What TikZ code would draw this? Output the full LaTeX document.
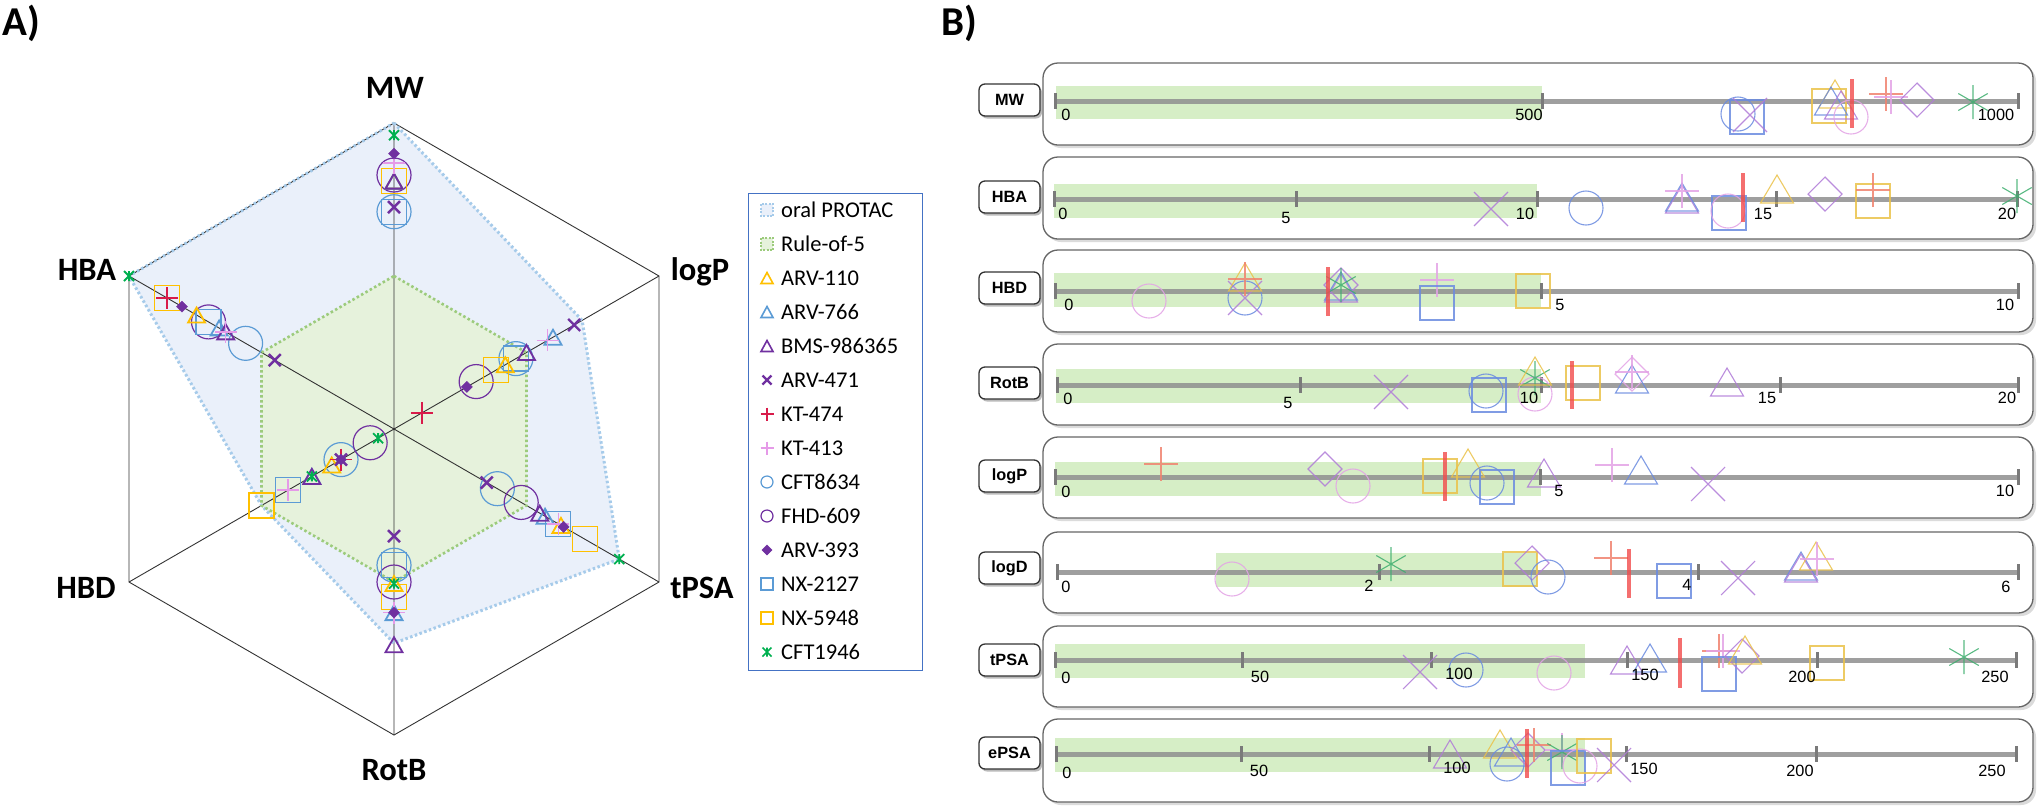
\documentclass[tikz,border=0pt]{standalone}
\usepackage{fontspec}
\setmainfont{Carlito}
\newfontfamily\arialf{Liberation Sans}
\usetikzlibrary{calc,shadows}
\definecolor{cYel}{HTML}{FFC000}
\definecolor{cBlu}{HTML}{5B9BD5}
\definecolor{cPur}{HTML}{7030A0}
\definecolor{cRed}{HTML}{D81B4A}
\definecolor{cPnk}{HTML}{E59AE8}
\definecolor{cGrn}{HTML}{00B050}
\definecolor{oralFill}{HTML}{EAF0FA}
\definecolor{oralLine}{HTML}{A6CBEA}
\definecolor{roFill}{HTML}{E6F2DC}
\definecolor{roLine}{HTML}{9CCB7C}
\definecolor{legLine}{HTML}{4472C4}
\definecolor{bYel}{HTML}{EBC24A}
\definecolor{bBlu}{HTML}{6A8BE0}
\definecolor{bPur}{HTML}{B07AD8}
\definecolor{bPnk}{HTML}{E3A3E6}
\definecolor{bRed}{HTML}{F0826E}
\definecolor{bGrn}{HTML}{3DAE6E}
\definecolor{bBand}{HTML}{D6EEC6}
\definecolor{bAxis}{HTML}{8F8F8F}
\definecolor{bBar}{HTML}{F24B4B}
% marker shapes
\newcommand{\MkTri}[4]{\draw[#1,shift={(#2)}] (0,-#4) -- (-#3,#4) -- (#3,#4) -- cycle;}
\newcommand{\MkSq}[3]{\draw[#1,shift={(#2)}] (-#3,-#3) rectangle (#3,#3);}
\newcommand{\MkCirc}[3]{\draw[#1,shift={(#2)}] (0,0) circle[radius=#3];}
\newcommand{\MkX}[3]{\draw[#1,shift={(#2)}] (-#3,-#3) -- (#3,#3) (-#3,#3) -- (#3,-#3);}
\newcommand{\MkPlus}[3]{\draw[#1,shift={(#2)}] (-#3,0) -- (#3,0) (0,-#3) -- (0,#3);}
\newcommand{\MkDia}[3]{\draw[#1,shift={(#2)}] (0,-#3) -- (#3,0) -- (0,#3) -- (-#3,0) -- cycle;}
\newcommand{\MkAst}[3]{\draw[#1,shift={(#2)}] (90:#3) -- (270:#3) (30:#3) -- (210:#3) (150:#3) -- (330:#3);}
\newcommand{\MkStar}[3]{\draw[#1,shift={(#2)}] (-#3,-#3) -- (#3,#3) (-#3,#3) -- (#3,-#3) (0,-#3) -- (0,#3);}
% radar markers: style, axis, fraction
\newcommand{\RT}[3]{\MkTri{#1}{$(C)!#3!(a#2)$}{8.5}{7.5}}
\newcommand{\RC}[3]{\MkCirc{#1}{$(C)!#3!(a#2)$}{17}}
\newcommand{\RS}[3]{\MkSq{#1}{$(C)!#3!(a#2)$}{12.5}}
\newcommand{\RX}[3]{\MkX{#1}{$(C)!#3!(a#2)$}{6}}
\newcommand{\RPl}[3]{\MkPlus{#1}{$(C)!#3!(a#2)$}{11}}
\newcommand{\RD}[3]{\MkDia{#1}{$(C)!#3!(a#2)$}{5.5}}
\newcommand{\RG}[3]{\MkStar{#1}{$(C)!#3!(a#2)$}{5}}
% panel B helpers
\newcommand{\Tk}[2]{\draw[tickst] (#1,#2-8) -- (#1,#2+8);}
\newcommand{\RowBox}[2]{\fill[rowshadow] (1046,#1+3) rectangle (2036,#2+3); \draw[rowframe] (1043,#1) rectangle (2033,#2);}
\tikzset{
 panlab/.style={font=\fontsize{41}{45}\selectfont\bfseries, inner sep=0pt},
 radlab/.style={font=\fontsize{32.6}{36}\selectfont\bfseries, inner sep=0pt, anchor=base},
 legtxt/.style={font=\fontsize{22.5}{25}\selectfont, inner sep=0pt, anchor=base west},
 rowlab/.style={draw=black!80, line width=1.3, fill=white, rounded corners=6, minimum width=61pt, minimum height=32pt, inner sep=0pt, font=\arialf\bfseries\fontsize{16.3}{18}\selectfont, drop shadow={shadow xshift=2pt,shadow yshift=-2.5pt,opacity=0.45,fill=black!60}},
 ticklab/.style={font=\arialf\fontsize{16.3}{18}\selectfont, inner sep=0pt},
 rowframe/.style={draw=black!60, fill=white, line width=1.3, rounded corners=15},
 rowshadow/.style={fill=black!14, rounded corners=15},
 band/.style={fill=bBand},
 axisline/.style={draw=bAxis, line width=5, draw opacity=0.85},
 tickst/.style={draw=bAxis!85!black, line width=3},
 redbar/.style={draw=bBar, line width=4, draw opacity=0.8},
 bm/.style={line width=1.1, draw opacity=0.85},
 hexline/.style={draw=black!80, line width=0.9},
 aTY/.style={draw=cYel,line width=1.8},
 aTB/.style={draw=cBlu,line width=1.8},
 aTP/.style={draw=cPur,line width=1.8},
 aXs/.style={draw=cPur,line width=2.4},
 aPR/.style={draw=cRed,line width=1.5},
 aPK/.style={draw=cPnk,line width=1.5},
 aCB/.style={draw=cBlu,line width=1.2},
 aCP/.style={draw=cPur,line width=1.2},
 aDs/.style={fill=cPur,draw=cPur,line width=0.5},
 aSB/.style={draw=cBlu,line width=1.3},
 aSY/.style={draw=cYel,line width=1.3},
 aGs/.style={draw=cGrn,line width=1.8}
}
\begin{document}
\begin{tikzpicture}[x=1pt,y=-1pt,line join=miter]
\useasboundingbox (0,0) rectangle (2043,807);
\fill[white] (0,0) rectangle (2043,807);
% ---------------- Panel A ----------------
\node[panlab] (pA) at (21,23) {A)};
\coordinate (C) at (394,429);
\coordinate (aMW) at (394,123);
\coordinate (alogP) at (659,276);
\coordinate (atPSA) at (659,582);
\coordinate (aRotB) at (394,735);
\coordinate (aHBD) at (129,582);
\coordinate (aHBA) at (129,276);
% areas
\fill[oralFill] ($(C)!1!(aMW)$) -- ($(C)!0.71!(alogP)$) -- ($(C)!0.85!(atPSA)$) -- ($(C)!0.70!(aRotB)$) -- ($(C)!0.5!(aHBD)$) -- ($(C)!1!(aHBA)$) -- cycle;
\fill[roFill] ($(C)!0.5!(aMW)$) -- ($(C)!0.5!(alogP)$) -- ($(C)!0.5!(atPSA)$) -- ($(C)!0.5!(aRotB)$) -- ($(C)!0.5!(aHBD)$) -- ($(C)!0.5!(aHBA)$) -- cycle;
% frame
\draw[hexline] (aMW) -- (alogP) -- (atPSA) -- (aRotB) -- (aHBD) -- (aHBA) -- cycle;
\draw[hexline] (aMW) -- (aRotB) (alogP) -- (aHBD) (aHBA) -- (atPSA);
% borders
\draw[oralLine, line width=3, dash pattern=on 2.5pt off 2.5pt] ($(C)!1!(aMW)$) -- ($(C)!0.71!(alogP)$) -- ($(C)!0.85!(atPSA)$) -- ($(C)!0.70!(aRotB)$) -- ($(C)!0.5!(aHBD)$) -- ($(C)!1!(aHBA)$) -- cycle;
\draw[roLine, line width=2.6, dash pattern=on 2.5pt off 2.5pt] ($(C)!0.5!(aMW)$) -- ($(C)!0.5!(alogP)$) -- ($(C)!0.5!(atPSA)$) -- ($(C)!0.5!(aRotB)$) -- ($(C)!0.5!(aHBD)$) -- ($(C)!0.5!(aHBA)$) -- cycle;
% circles and squares
\RC{aCB}{MW}{0.71} \RC{aCB}{HBA}{0.56} \RC{aCB}{logP}{0.46} \RC{aCB}{HBD}{0.20} \RC{aCB}{tPSA}{0.39} \RC{aCB}{RotB}{0.445}
\RC{aCP}{MW}{0.83} \RC{aCP}{HBA}{0.70} \RC{aCP}{logP}{0.31} \RC{aCP}{HBD}{0.09} \RC{aCP}{tPSA}{0.48} \RC{aCP}{RotB}{0.50}
\RS{aSB}{MW}{0.71} \RS{aSB}{HBA}{0.70} \RS{aSB}{logP}{0.46} \RS{aSB}{HBD}{0.40} \RS{aSB}{tPSA}{0.62} \RS{aSB}{RotB}{0.445}
\RS{aSY}{MW}{0.81} \RS{aSY}{HBA}{0.856} \RS{aSY}{logP}{0.385} \RS{aSY}{HBD}{0.50} \RS{aSY}{tPSA}{0.72} \RS{aSY}{RotB}{0.55}
% triangles
\RT{aTY}{MW}{0.81} \RT{aTY}{HBA}{0.745} \RT{aTY}{logP}{0.42} \RT{aTY}{HBD}{0.235} \RT{aTY}{tPSA}{0.63} \RT{aTY}{RotB}{0.505}
\RT{aTB}{MW}{0.81} \RT{aTB}{HBA}{0.66} \RT{aTB}{logP}{0.60} \RT{aTB}{HBD}{0.31} \RT{aTB}{tPSA}{0.57} \RT{aTB}{RotB}{0.60}
\RT{aTP}{MW}{0.81} \RT{aTP}{HBA}{0.635} \RT{aTP}{logP}{0.50} \RT{aTP}{HBD}{0.31} \RT{aTP}{tPSA}{0.55} \RT{aTP}{RotB}{0.705}
% crosses, pluses, diamonds, stars
\RX{aXs}{MW}{0.725} \RX{aXs}{HBA}{0.45} \RX{aXs}{logP}{0.68} \RX{aXs}{HBD}{0.20} \RX{aXs}{tPSA}{0.35} \RX{aXs}{RotB}{0.35}
\RPl{aPR}{MW}{0.87} \RPl{aPR}{HBA}{0.856} \RPl{aPR}{logP}{0.105} \RPl{aPR}{HBD}{0.20} \RPl{aPR}{tPSA}{0.62}
\RPl{aPK}{MW}{0.87} \RPl{aPK}{HBA}{0.635} \RPl{aPK}{logP}{0.58} \RPl{aPK}{HBD}{0.40} \RPl{aPK}{tPSA}{0.62} \RPl{aPK}{RotB}{0.60}
\RD{aDs}{MW}{0.90} \RD{aDs}{HBA}{0.80} \RD{aDs}{logP}{0.275} \RD{aDs}{HBD}{0.20} \RD{aDs}{tPSA}{0.64} \RD{aDs}{RotB}{0.60}
\RG{aGs}{MW}{0.96} \RG{aGs}{HBA}{1.0} \RG{aGs}{HBD}{0.06} \RG{aGs}{HBD}{0.31} \RG{aGs}{tPSA}{0.85} \RG{aGs}{RotB}{0.505}
% axis labels
\node[radlab] (lMW) at (395,98) {MW};
\node[radlab] (lHBA) at (87,280) {HBA};
\node[radlab] (llogP) at (700,280) {logP};
\node[radlab] (lHBD) at (86,598) {HBD};
\node[radlab] (ltPSA) at (702,598) {tPSA};
\node[radlab] (lRotB) at (394,780) {RotB};
% legend
\draw[legLine, line width=1] (748,193) rectangle (922,670);
\fill[oralFill] (761,204) rectangle (773,216);
\draw[oralLine, line width=2, dash pattern=on 2pt off 1.5pt] (761,204) rectangle (773,216);
\fill[roFill] (761,238) rectangle (773,250);
\draw[roLine, line width=2, dash pattern=on 2pt off 1.5pt] (761,238) rectangle (773,250);
\MkTri{draw=cYel,line width=1.6}{767,278}{6}{5.5}
\MkTri{draw=cBlu,line width=1.6}{767,312}{6}{5.5}
\MkTri{draw=cPur,line width=1.6}{767,346}{6}{5.5}
\MkX{draw=cPur,line width=2.2}{767,380}{4.5}
\MkPlus{draw=cRed,line width=1.4}{767,414}{6.5}
\MkPlus{draw=cPnk,line width=1.4}{767,448}{6.5}
\MkCirc{draw=cBlu,line width=1.2}{767,482}{6}
\MkCirc{draw=cPur,line width=1.2}{767,516}{6}
\MkDia{fill=cPur,draw=cPur}{767,550}{5}
\MkSq{draw=cBlu,line width=1.2}{767,584}{6}
\MkSq{draw=cYel,line width=1.2}{767,618}{6}
\MkStar{draw=cGrn,line width=1.6}{767,652}{4.5}
\node[legtxt] (g0) at (781,217.5) {oral PROTAC};
\node[legtxt] (g1) at (781,251.5) {Rule-of-5};
\node[legtxt] (g2) at (781,285.5) {ARV-110};
\node[legtxt] (g3) at (781,319.5) {ARV-766};
\node[legtxt] (g4) at (781,353.5) {BMS-986365};
\node[legtxt] (g5) at (781,387.5) {ARV-471};
\node[legtxt] (g6) at (781,421.5) {KT-474};
\node[legtxt] (g7) at (781,455.5) {KT-413};
\node[legtxt] (g8) at (781,489.5) {CFT8634};
\node[legtxt] (g9) at (781,523.5) {FHD-609};
\node[legtxt] (g10) at (781,557.5) {ARV-393};
\node[legtxt] (g11) at (781,591.5) {NX-2127};
\node[legtxt] (g12) at (781,625.5) {NX-5948};
\node[legtxt] (g13) at (781,659.5) {CFT1946};
% ---------------- Panel B ----------------
\node[panlab] (pB) at (959,23) {B)};
% MW row
\RowBox{63}{145}
\fill[band] (1056,86) rectangle (1542,119);
\draw[axisline] (1055,101) -- (2018,101);
\Tk{1055}{101} \Tk{1542}{101} \Tk{2018}{101}
\MkCirc{bm,bBlu}{1738,114}{17} \MkSq{bm,bBlu}{1747,117}{17} \MkX{bm,bPur}{1750,115}{17}
\MkSq{bm,bYel}{1829,106}{17} \MkTri{bm,bYel}{1835,94}{16.5}{14} \MkTri{bm,bBlu}{1831,101}{16.5}{14} \MkTri{bm,bPur}{1841,105}{16.5}{14}
\MkCirc{bm,bPnk}{1851,117}{17} \MkPlus{bm,bRed}{1886,94}{17} \MkPlus{bm,bPnk}{1891,97}{17}
\MkDia{bm,bPur}{1917,100}{17} \MkAst{bm,bGrn}{1973,102}{17}
\draw[redbar] (1852,79) -- (1852,128);
\node[ticklab] (tMWa) at (1066,115) {0};
\node[ticklab] (tMWb) at (1529,115) {500};
\node[ticklab] (tMWc) at (1996,115) {1000};
\node[rowlab] (rMW) at (1009.5,100) {MW};
% HBA row
\RowBox{157}{239}
\fill[band] (1054,184) rectangle (1537,218);
\draw[axisline] (1054,199) -- (2017,199);
\Tk{1054}{199} \Tk{1296}{199} \Tk{1537}{199} \Tk{1776}{199} \Tk{2017}{199}
\MkX{bm,bPur}{1491,209}{17} \MkCirc{bm,bBlu}{1586,208}{17}
\MkTri{bm,bPur}{1682,199}{16.5}{14} \MkTri{bm,bBlu}{1682,197}{16.5}{14} \MkPlus{bm,bPnk}{1682,191}{17}
\MkSq{bm,bBlu}{1729,213}{17} \MkCirc{bm,bPnk}{1728,211}{17}
\MkTri{bm,bYel}{1777,189}{16.5}{14} \MkDia{bm,bPur}{1825,194}{17}
\MkSq{bm,bYel}{1873,201}{17} \MkPlus{bm,bRed}{1873,190}{17} \MkAst{bm,bGrn}{2017,196}{17}
\draw[redbar] (1743,173) -- (1743,222);
\node[ticklab] (tHBAa) at (1063,214) {0};
\node[ticklab] (tHBAb) at (1286,218) {5};
\node[ticklab] (tHBAc) at (1525,214) {10};
\node[ticklab] (tHBAd) at (1763,214) {15};
\node[ticklab] (tHBAe) at (2007,214) {20};
\node[rowlab] (rHBA) at (1009.5,197) {HBA};
% HBD row
\RowBox{250}{332}
\fill[band] (1054,273) rectangle (1541,307);
\draw[axisline] (1055,291) -- (2018,291);
\Tk{1055}{291} \Tk{1541}{291} \Tk{2018}{291}
\MkCirc{bm,bPnk}{1149,301}{17} \MkCirc{bm,bBlu}{1245,298}{17} \MkX{bm,bPur}{1245,298}{17}
\MkTri{bm,bYel}{1245,277}{16.5}{14} \MkPlus{bm,bRed}{1245,279}{17}
\MkTri{bm,bPur}{1341,288}{16.5}{14} \MkTri{bm,bBlu}{1341,286}{16.5}{14} \MkDia{bm,bPur}{1341,285}{17} \MkAst{bm,bGrn}{1341,285}{17}
\MkPlus{bm,bPnk}{1437,280}{17} \MkSq{bm,bBlu}{1437,303}{17} \MkSq{bm,bYel}{1533,291}{17}
\draw[redbar] (1328,267) -- (1328,316);
\node[ticklab] (tHBDa) at (1069,305) {0};
\node[ticklab] (tHBDb) at (1560,305) {5};
\node[ticklab] (tHBDc) at (2005,305) {10};
\node[rowlab] (rHBD) at (1009.5,288) {HBD};
% RotB row
\RowBox{344}{425}
\fill[band] (1056,369) rectangle (1541,403);
\draw[axisline] (1057,385) -- (2018,385);
\Tk{1057}{385} \Tk{1300}{385} \Tk{1541}{385} \Tk{1780}{385} \Tk{2018}{385}
\MkX{bm,bPur}{1391,392}{17} \MkCirc{bm,bBlu}{1486,391}{17} \MkSq{bm,bBlu}{1489,395}{17}
\MkCirc{bm,bPnk}{1535,394}{17} \MkAst{bm,bGrn}{1535,378}{17} \MkTri{bm,bYel}{1535,371}{16.5}{14}
\MkSq{bm,bYel}{1583,383}{17} \MkDia{bm,bPnk}{1632,374}{17} \MkTri{bm,bBlu}{1632,379}{16.5}{14} \MkPlus{bm,bPnk}{1632,372}{17}
\MkTri{bm,bPur}{1727,382}{16.5}{14}
\draw[redbar] (1572,361) -- (1572,409);
\node[ticklab] (tRBa) at (1068,399) {0};
\node[ticklab] (tRBb) at (1288,403) {5};
\node[ticklab] (tRBc) at (1529,398) {10};
\node[ticklab] (tRBd) at (1767,398) {15};
\node[ticklab] (tRBe) at (2007,398) {20};
\node[rowlab] (rRotB) at (1009.5,383) {RotB};
% logP row
\RowBox{437}{518}
\fill[band] (1055,462) rectangle (1541,496);
\draw[axisline] (1055,477) -- (2018,477);
\Tk{1055}{477} \Tk{1540}{477} \Tk{2018}{477}
\MkPlus{bm,bRed}{1161,464}{17} \MkDia{bm,bPur}{1325,469}{17} \MkCirc{bm,bPnk}{1353,486}{17}
\MkSq{bm,bYel}{1440,476}{17} \MkTri{bm,bYel}{1468,463}{16.5}{14} \MkCirc{bm,bBlu}{1487,483}{17} \MkSq{bm,bBlu}{1497,487}{17}
\MkTri{bm,bPur}{1544,473}{16.5}{14} \MkPlus{bm,bPnk}{1612,465}{17} \MkTri{bm,bBlu}{1641,470}{16.5}{14} \MkX{bm,bPur}{1708,484}{17}
\draw[redbar] (1445,452) -- (1445,501);
\node[ticklab] (tLPa) at (1066,492) {0};
\node[ticklab] (tLPb) at (1559,491) {5};
\node[ticklab] (tLPc) at (2005,491) {10};
\node[rowlab] (rlogP) at (1009.5,476) {logP};
% logD row
\RowBox{532}{613}
\fill[band] (1216,553) rectangle (1537,587);
\draw[axisline] (1057,572) -- (2018,572);
\Tk{1057}{572} \Tk{1379}{572} \Tk{1698}{572} \Tk{2018}{572}
\MkCirc{bm,bPnk}{1232,579}{17} \MkAst{bm,bGrn}{1391,564}{17} \MkSq{bm,bYel}{1520,569}{17}
\MkDia{bm,bPur}{1532,563}{17} \MkCirc{bm,bBlu}{1548,577}{17} \MkPlus{bm,bRed}{1611,558}{17}
\MkSq{bm,bBlu}{1674,581}{17} \MkX{bm,bPur}{1738,578}{17}
\MkTri{bm,bBlu}{1801,566}{16.5}{14} \MkTri{bm,bPur}{1801,568}{16.5}{14} \MkTri{bm,bYel}{1816,556}{16.5}{14} \MkPlus{bm,bPnk}{1817,559}{17}
\draw[redbar] (1629,549) -- (1629,598);
\node[ticklab] (tLDa) at (1066,587) {0};
\node[ticklab] (tLDb) at (1369,586) {2};
\node[ticklab] (tLDc) at (1687,585) {4};
\node[ticklab] (tLDd) at (2006,587) {6};
\node[rowlab] (rlogD) at (1009.5,568) {logD};
% tPSA row
\RowBox{626}{707}
\fill[band] (1055,644) rectangle (1585,678);
\draw[axisline] (1055,660) -- (2016,660);
\Tk{1055}{660} \Tk{1242}{660} \Tk{1431}{660} \Tk{1627}{660} \Tk{1817}{660} \Tk{2016}{660}
\MkX{bm,bPur}{1420,672}{17} \MkCirc{bm,bBlu}{1466,670}{17} \MkCirc{bm,bPnk}{1554,673}{17}
\MkTri{bm,bPur}{1627,660}{16.5}{14} \MkTri{bm,bBlu}{1650,658}{16.5}{14}
\MkPlus{bm,bRed}{1719,651}{17} \MkPlus{bm,bPnk}{1723,651}{17} \MkSq{bm,bBlu}{1719,674}{17}
\MkDia{bm,bPur}{1742,656}{17} \MkTri{bm,bYel}{1745,650}{16.5}{14} \MkSq{bm,bYel}{1827,663}{17} \MkAst{bm,bGrn}{1964,657}{17}
\draw[redbar] (1680,638) -- (1680,688);
\node[ticklab] (tTPa) at (1066,678) {0};
\node[ticklab] (tTPb) at (1260,677) {50};
\node[ticklab] (tTPc) at (1459,674) {100};
\node[ticklab] (tTPd) at (1645,675) {150};
\node[ticklab] (tTPe) at (1802,677) {200};
\node[ticklab] (tTPf) at (1995,677) {250};
\node[rowlab] (rtPSA) at (1009.5,660) {tPSA};
% ePSA row
\RowBox{719}{802}
\fill[band] (1055,738) rectangle (1585,772);
\draw[axisline] (1056,754) -- (2016,754);
\Tk{1056}{754} \Tk{1241}{754} \Tk{1429}{754} \Tk{1626}{754} \Tk{1816}{754} \Tk{2016}{754}
\MkTri{bm,bPur}{1450,754}{16.5}{14} \MkTri{bm,bYel}{1500,744}{16.5}{14} \MkCirc{bm,bBlu}{1507,764}{17}
\MkTri{bm,bBlu}{1511,752}{16.5}{14} \MkDia{bm,bPur}{1528,750}{17} \MkPlus{bm,bRed}{1534,745}{17}
\MkPlus{bm,bPnk}{1562,750}{17} \MkAst{bm,bGrn}{1562,752}{17} \MkSq{bm,bBlu}{1568,768}{17}
\MkCirc{bm,bPnk}{1580,766}{17} \MkSq{bm,bYel}{1594,756}{17} \MkX{bm,bPur}{1614,765}{17}
\draw[redbar] (1527,729) -- (1527,778);
\node[ticklab] (tEPa) at (1067,773) {0};
\node[ticklab] (tEPb) at (1259,771) {50};
\node[ticklab] (tEPc) at (1457,768) {100};
\node[ticklab] (tEPd) at (1644,769) {150};
\node[ticklab] (tEPe) at (1800,771) {200};
\node[ticklab] (tEPf) at (1992,771) {250};
\node[rowlab] (rePSA) at (1009.5,753) {ePSA};
\end{tikzpicture}
\end{document}
